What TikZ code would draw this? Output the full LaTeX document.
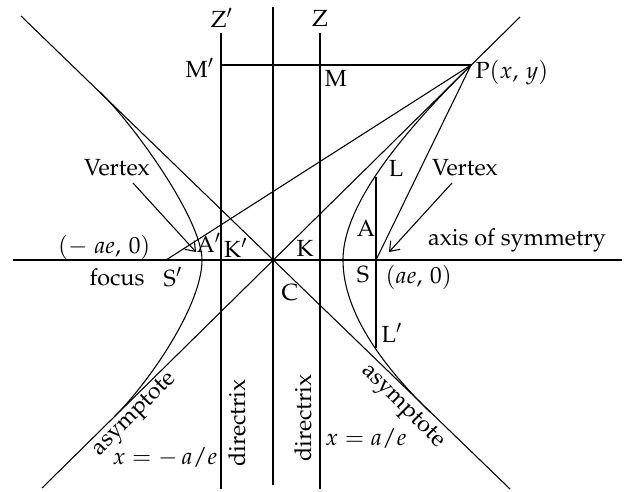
\documentclass[tikz,border=0pt]{standalone}
\usepackage[T1]{fontenc}
\usepackage{mathpazo}
\usetikzlibrary{arrows.meta}

\begin{document}
\begin{tikzpicture}[x=0.4625pt, y=-0.4625pt, line width=0.5pt, font=\fontsize{10.8pt}{13pt}\selectfont, lbl/.style={inner sep=0pt}, >={Straight Barb[length=4pt,width=6pt]}]
\useasboundingbox (0,0) rectangle (624,491);
\coordinate (C) at (273,260);
\coordinate (P) at (471,65);
\coordinate (S1) at (166,260);
\coordinate (S) at (376,260);
\coordinate (A1) at (202,260);
\coordinate (A) at (343,260);
\coordinate (L) at (376,177);
\coordinate (L1) at (376,348);
\coordinate (Z1top) at (221,33);
\coordinate (Z1bot) at (221,489);
\coordinate (M1) at (221,65);
\coordinate (Ytop) at (273,7);
\coordinate (Ybot) at (273,485);
\coordinate (Ztop) at (320,33);
\coordinate (Zbot) at (320,489);
\coordinate (axL) at (13,260);
\coordinate (axR) at (622,260);
\coordinate (asA) at (21,16);
\coordinate (asB) at (510,489);
\coordinate (asC) at (42,488);
\coordinate (asD) at (520,17);
\coordinate (mUL) at (100,92);
\coordinate (mLL) at (115,416);
\coordinate (mLR) at (430,412);
\coordinate (vL) at (133,183);
\coordinate (vR) at (452,183);
\coordinate (tL) at (196,252);
\coordinate (tR) at (389,252);
\draw (axL) -- (axR);
\draw (Z1top) -- (Z1bot);
\draw (Ytop) -- (Ybot);
\draw (Ztop) -- (Zbot);
\draw (M1) -- (P);
\draw (asA) -- (asB);
\draw (asC) -- (asD);
\draw (L) -- (L1);
\draw (S1) -- (P) -- (S);
\draw (mUL) .. controls +(35,34) and +(0,-40) .. (A1) .. controls +(0,45) and +(35,-35) .. (mLL);
\draw (P) .. controls +(-53,53) and +(0,-62) .. (A) .. controls +(0,55) and +(-43,-42) .. (mLR);
\draw[->] (vL) -- (tL);
\draw[->] (vR) -- (tR);
\node[lbl] (zp) at (222,18) {Z$'$};
\node[lbl] (z) at (320,18) {Z};
\node[lbl] (mp) at (200,68) {M$'$};
\node[lbl] (m) at (336,78) {M};
\node[lbl, anchor=west] (p) at (475,73) {P$(x,\,y)$};
\node[lbl] (vtxL) at (117,168) {Vertex};
\node[lbl] (vtxR) at (465,168) {Vertex};
\node[lbl, anchor=east] (fL) at (151,247) {$(-\;ae,\,0)$};
\node[lbl] (ap) at (209,243) {A$'$};
\node[lbl] (kp) at (236,248) {K$'$};
\node[lbl] (k) at (305,248) {K};
\node[lbl] (foc) at (117,277) {focus};
\node[lbl] (sp) at (173,277) {S$'$};
\node[lbl] (c) at (290,293) {C};
\node[lbl] (l) at (396,168) {L};
\node[lbl] (a) at (366,228) {A};
\node[lbl] (axis) at (517,240) {axis of symmetry};
\node[lbl] (s) at (363,275) {S};
\node[lbl, anchor=west] (fR) at (385,277) {$(ae,\,0)$};
\node[lbl] (lp) at (392,333) {L$'$};
\node[lbl, rotate=45] (asymL) at (135,415) {asymptote};
\node[lbl, rotate=-45] (asymR) at (402,407) {asymptote};
\node[lbl] (dL) at (165,457) {$x = -\,a/e$};
\node[lbl] (dR) at (366,438) {$x = a/e$};
\node[lbl, rotate=90] (dirL) at (237,423) {directrix};
\node[lbl, rotate=90] (dirR) at (303,418) {directrix};
\end{tikzpicture}
\end{document}
